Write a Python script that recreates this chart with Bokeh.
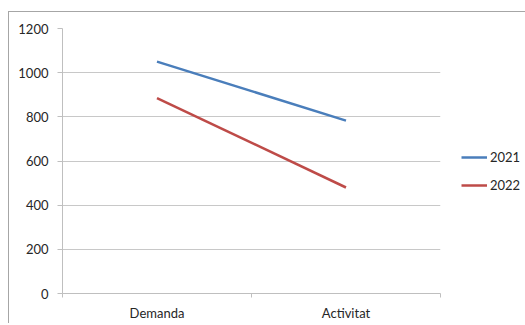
from bokeh.plotting import figure
from bokeh.models import Range1d, FixedTicker, Legend, LegendItem
from bokeh.embed import file_html
from bokeh.resources import INLINE

categories = ["Demanda", "Activitat"]
series_names = ["2021", "2022"]
values_2021 = [1050, 783]
values_2022 = [885, 480]
y_ticks = [0, 200, 400, 600, 800, 1000, 1200]

colors = ["#4A7EBB", "#BE4B48"]
font = "Lato"
text_color = "#262626"

x_pos = [i + 0.5 for i in range(len(categories))]

p = figure(
    frame_width=378, frame_height=265,
    min_border_left=53, min_border_top=16, min_border_bottom=21, min_border_right=75,
    x_range=Range1d(0, len(categories)), y_range=Range1d(0, 1200),
    output_backend="svg", toolbar_location=None,
)
p.outline_line_color = None
p.background_fill_color = "white"
p.border_fill_color = "white"
p.styles = {"margin-left": "8px", "margin-top": "11px",
            "border-left": "1px solid #a6a6a6", "border-top": "1px solid #a6a6a6"}

# y axis
p.yaxis.ticker = FixedTicker(ticks=y_ticks)
p.yaxis.axis_line_color = "#bfbfbf"
p.yaxis.major_tick_line_color = "#bfbfbf"
p.yaxis.major_tick_out = 5
p.yaxis.major_tick_in = 0
p.yaxis.minor_tick_line_color = None
p.yaxis.major_label_standoff = 9
p.yaxis.major_label_text_font = font
p.yaxis.major_label_text_font_size = "13px"
p.yaxis.major_label_text_color = text_color

# x axis
p.xaxis.ticker = FixedTicker(ticks=x_pos, minor_ticks=[0, 1, 2])
p.xaxis.major_label_overrides = {x: c for x, c in zip(x_pos, categories)}
p.xaxis.axis_line_color = "#bfbfbf"
p.xaxis.major_tick_line_color = None
p.xaxis.minor_tick_line_color = "#bfbfbf"
p.xaxis.minor_tick_out = 4
p.xaxis.minor_tick_in = 0
p.xaxis.major_label_standoff = 5
p.xaxis.major_label_text_font = font
p.xaxis.major_label_text_font_size = "13px"
p.xaxis.major_label_text_color = text_color

p.xgrid.grid_line_color = None
p.ygrid.ticker = FixedTicker(ticks=y_ticks)
p.ygrid.grid_line_color = "#c8c8c8"
p.ygrid.grid_line_width = 1

r1 = p.line(x_pos, values_2021, line_color=colors[0], line_width=2.5)
r2 = p.line(x_pos, values_2022, line_color=colors[1], line_width=2.5)

legend = Legend(
    items=[LegendItem(label=series_names[0], renderers=[r1]),
           LegendItem(label=series_names[1], renderers=[r2])],
    location=(21, 98), orientation="vertical",
)
legend.margin = 0
legend.padding = 0
legend.spacing = 8
legend.glyph_width = 26
legend.glyph_height = 20
legend.label_height = 20
legend.label_standoff = 3
legend.border_line_color = None
legend.background_fill_alpha = 0
legend.label_text_font = font
legend.label_text_font_size = "13px"
legend.label_text_color = text_color
p.add_layout(legend, "right")

open("out.html", "w").write(file_html(p, INLINE))
